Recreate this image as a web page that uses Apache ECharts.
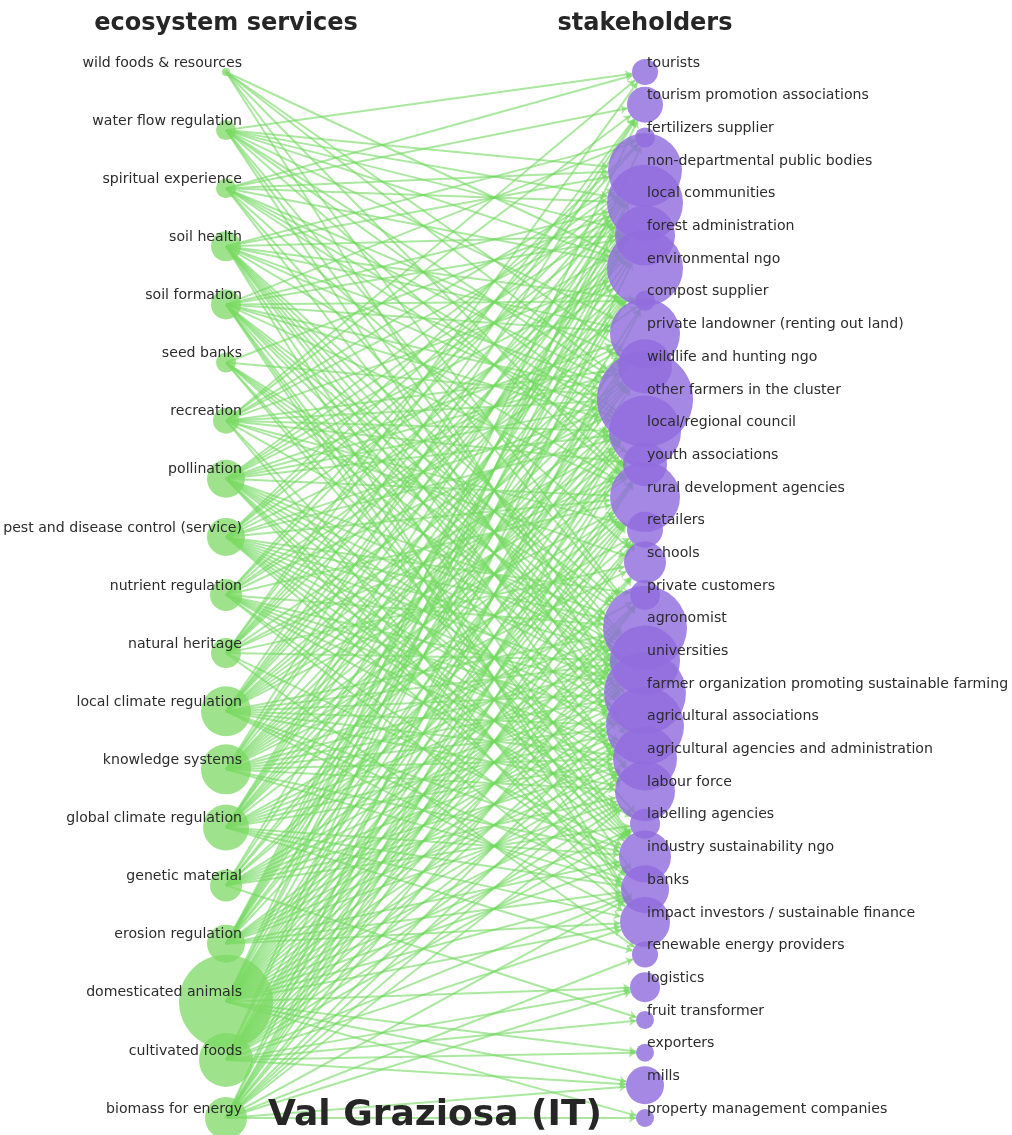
<!DOCTYPE html>
<html><head><meta charset="utf-8">
<script src="https://cdn.jsdelivr.net/npm/echarts@6/dist/echarts.min.js"></script>
<style>html,body{margin:0;padding:0;background:#fff}#c{width:1012px;height:1135px}</style>
</head><body><div id="c"></div>
<script>
const services = ["wild foods & resources","water flow regulation","spiritual experience","soil health","soil formation","seed banks","recreation","pollination","pest and disease control (service)","nutrient regulation","natural heritage","local climate regulation","knowledge systems","global climate regulation","genetic material","erosion regulation","domesticated animals","cultivated foods","biomass for energy"];
const serviceSizes = [8,20,20,30,30,20,26,38,38,32,30,50,50,46,32,38,94,54,42];
const stakeholders = ["tourists","tourism promotion associations","fertilizers supplier","non-departmental public bodies","local communities","forest administration","environmental ngo","compost supplier","private landowner (renting out land)","wildlife and hunting ngo","other farmers in the cluster","local/regional council","youth associations","rural development agencies","retailers","schools","private customers","agronomist","universities","farmer organization promoting sustainable farming","agricultural associations","agricultural agencies and administration","labour force","labelling agencies","industry sustainability ngo","banks","impact investors / sustainable finance","renewable energy providers","logistics","fruit transformer","exporters","mills","property management companies"];
const stakeholderSizes = [26,36,20,74,76,60,76,20,70,54,96,72,44,70,36,42,30,84,70,82,78,64,60,30,52,48,50,26,30,18,18,38,18];
// links: for each ecosystem service, indices of connected stakeholders
const links = [
 [6,9,10,13,17,20],
 [0,3,4,5,6,8,10,11,13,17,19,21],
 [0,1,3,4,6,9,10,11,12,15,18,20],
 [2,3,5,7,8,10,11,13,17,18,19,20,21,22,24,26],
 [2,4,5,7,8,10,11,13,17,18,19,20,22,24,25,26],
 [4,10,17,18,19,20,23,24],
 [0,1,3,4,6,9,10,11,12,14,15,18,24,26],
 [3,4,5,6,8,9,10,11,13,17,18,19,20,21,22,24,25,26],
 [2,3,4,6,8,10,11,13,16,17,18,19,20,21,22,23,24,25],
 [2,3,5,7,8,10,13,17,19,20,21,22,23,25,26],
 [0,1,3,4,5,6,9,11,12,15,18,24,27],
 [1,3,4,5,6,8,9,10,11,12,13,17,18,19,20,21,22,24,25,26],
 [1,3,4,6,8,9,10,11,12,13,14,15,17,18,19,20,21,22,24,25],
 [3,4,5,6,8,9,10,11,13,16,17,18,19,20,21,24,25,26,27],
 [4,6,9,10,13,14,17,18,19,20,21,22,23,29],
 [3,4,5,6,7,8,10,11,13,17,18,19,20,21,22,24,25,26],
 [1,3,4,6,8,9,10,11,12,13,14,15,16,17,18,19,20,21,22,23,24,25,26,28,30,31,32],
 [2,4,8,10,11,12,13,14,15,16,17,18,19,20,21,22,23,25,26,28,29,30,31],
 [5,7,10,11,12,13,14,16,17,19,20,21,22,25,27,28,31,32]
];
const title = "Val Graziosa (IT)";
const colTitles = ["ecosystem services","stakeholders"];

const nS = services.length, nK = stakeholders.length;
const nodes = [];
services.forEach((s,i)=>nodes.push({
  name:'S:'+s, value:[0, i/(nS-1)], symbolSize: serviceSizes[i],
  itemStyle:{color:'rgba(125,218,100,0.75)'},
  label:{show:true, formatter:s, position:'inside', align:'right', verticalAlign:'middle', offset:[16,-9]}
}));
stakeholders.forEach((s,j)=>nodes.push({
  name:'K:'+s, value:[1, j/(nK-1)], symbolSize: stakeholderSizes[j],
  itemStyle:{color:'rgba(145,108,222,0.82)'},
  label:{show:true, formatter:s, position:'inside', align:'left', verticalAlign:'middle', offset:[2,-9]}
}));
const edges = [];
links.forEach((arr,i)=>arr.forEach(j=>edges.push({source:i, target:nS+j})));

const chart = echarts.init(document.getElementById('c'), null, {renderer:'canvas'});
chart.setOption({
  animation:false,
  title:[
    {text:colTitles[0], left:221, top:7, textAlign:'center', textStyle:{fontFamily:'DejaVu Sans', fontWeight:'bold', fontSize:24, color:'#262626'}},
    {text:colTitles[1], left:640, top:7, textAlign:'center', textStyle:{fontFamily:'DejaVu Sans', fontWeight:'bold', fontSize:24, color:'#262626'}},
    {text:title, left:430, top:1093, textAlign:'center', textStyle:{fontFamily:'DejaVu Sans', fontWeight:'bold', fontSize:36, color:'#262626'}}
  ],
  grid:{left:226, right:367, top:72, bottom:17},
  xAxis:{type:'value', min:0, max:1, show:false},
  yAxis:{type:'value', min:0, max:1, inverse:true, show:false},
  series:[{
    type:'graph', coordinateSystem:'cartesian2d', layout:'none',
    data:nodes, links:edges,
    edgeSymbol:['none','arrow'], edgeSymbolSize:[0,7],
    lineStyle:{color:'#72d95f', width:2, opacity:0.6, curveness:0},
    label:{fontFamily:'DejaVu Sans', fontSize:14.1, color:'#2b2b2b'},
    emphasis:{disabled:true}
  }]
});
</script></body></html>
